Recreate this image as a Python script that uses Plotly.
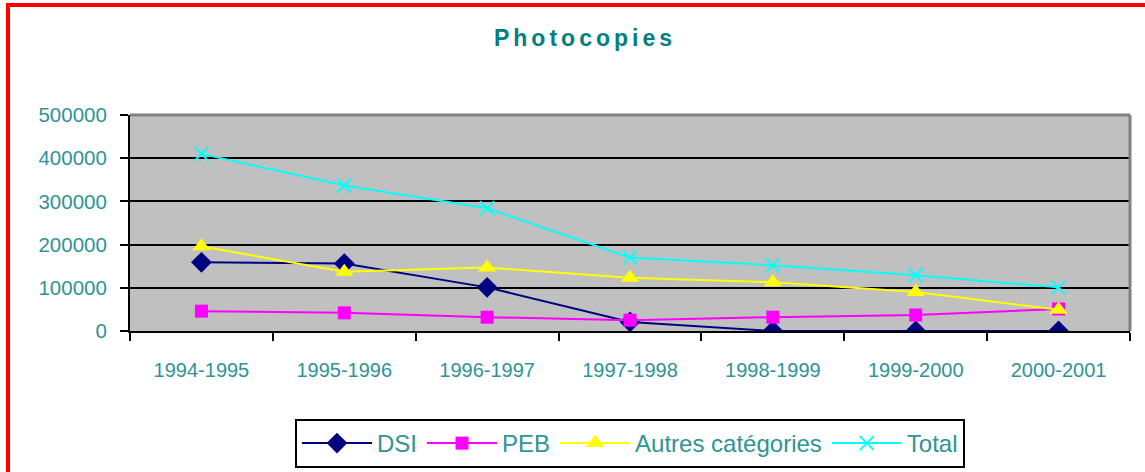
import plotly.graph_objects as go

categories = ["1994-1995", "1995-1996", "1996-1997", "1997-1998", "1998-1999", "1999-2000", "2000-2001"]
dsi = [159000, 156000, 101000, 21000, 0, 0, 0]
peb = [46000, 42000, 32000, 25000, 32000, 37000, 51000]
autres = [196000, 137000, 147000, 123000, 113000, 90000, 49000]
total = [410000, 337000, 284000, 170000, 152000, 129000, 101000]
y_ticks = [0, 100000, 200000, 300000, 400000, 500000]

TEAL = "#2e9494"
FONT = "Liberation Sans, Arial, sans-serif"

W, H = 1145, 472
L, T = 130, 115
R = W - 1130
B = H - 331

fig = go.Figure()
series = [
    ("DSI", dsi, "#000080", dict(symbol="diamond", size=16, color="#000080")),
    ("PEB", peb, "#ff00ff", dict(symbol="square", size=13, color="#ff00ff")),
    ("Autres catégories", autres, "#ffff00", dict(symbol="triangle-up", size=16, color="#ffff00")),
    ("Total", total, "#00ffff", dict(symbol="x-thin", size=14, color="#00ffff", line=dict(color="#00ffff", width=2))),
]
for name, vals, col, mk in series:
    fig.add_trace(go.Scatter(x=categories, y=vals, name=name, mode="lines+markers",
                             line=dict(color=col, width=2), marker=mk))

ph = H - T - B
pw = W - L - R
fig.update_layout(
    width=W, height=H,
    margin=dict(l=L, r=R, t=T, b=B, autoexpand=False),
    paper_bgcolor="white", plot_bgcolor="#c0c0c0",
    title=dict(text="<span style='letter-spacing:4px'><b>Photocopies</b></span>",
               x=585 / W, xanchor="center", xref="container",
               y=1 - 38/H, yanchor="middle", yref="container",
               font=dict(family=FONT, size=23, color="#008080")),
    xaxis=dict(type="category", range=[-0.5, 6.5], tickson="boundaries", ticks="outside",
               ticklen=8, tickwidth=2, tickcolor="black", showline=True, linecolor="black",
               linewidth=2, showgrid=False, ticklabelstandoff=20, automargin=False,
               tickfont=dict(family=FONT, size=20, color=TEAL)),
    yaxis=dict(range=[0, 500000], tickvals=y_ticks, ticktext=[str(v) for v in y_ticks],
               ticks="outside", ticklen=8, tickwidth=2, tickcolor="black", showline=True,
               linecolor="black", linewidth=2, gridcolor="black", gridwidth=2, zeroline=False,
               ticklabelstandoff=9, automargin=False, tickfont=dict(family=FONT, size=20.5, color=TEAL)),
    legend=dict(orientation="h", x=0.5, xanchor="center", y=(331 - 419) / ph, yanchor="top",
                bordercolor="black", borderwidth=2, bgcolor="white", itemwidth=70,
                font=dict(family=FONT, size=24, color=TEAL), tracegroupgap=0),
    showlegend=True,
)
fig.add_shape(type="line", xref="x domain", yref="y domain", x0=0, x1=1, y0=1, y1=1,
              line=dict(color="#808080", width=3), layer="above")
fig.add_shape(type="line", xref="x domain", yref="y domain", x0=1, x1=1, y0=0, y1=1,
              line=dict(color="#808080", width=3), layer="above")
fig.add_shape(type="rect", xref="paper", yref="paper", x0=(8 - L) / pw, x1=(1160 - L) / pw,
              y0=(331 - 500) / ph, y1=(331 - 5) / ph, line=dict(color="red", width=4), layer="above")

fig.write_html("out.html", config={"displayModeBar": False},
               post_script="document.body.style.margin='0';")
